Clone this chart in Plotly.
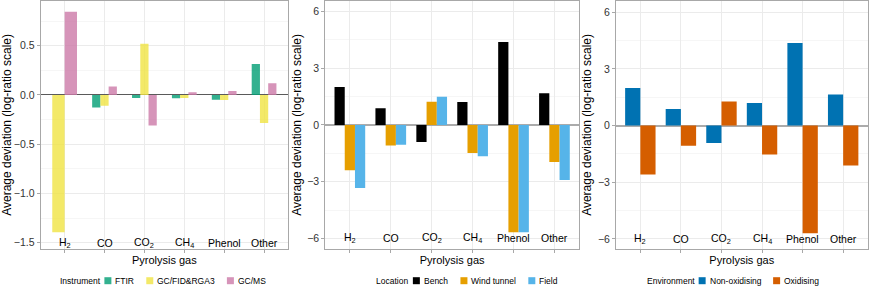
import plotly.graph_objects as go

# ---------------- data ----------------
gases = ["H2", "CO", "CO2", "CH4", "Phenol", "Other"]
gas_labels = ["H<sub>2</sub>", "CO", "CO<sub>2</sub>", "CH<sub>4</sub>", "Phenol", "Other"]

instr_names = ["FTIR", "GC/FID&RGA3", "GC/MS"]
ftir = [None, -0.127, -0.03, -0.034, -0.048, 0.315]
gcfid = [-1.393, -0.11, 0.52, -0.03, -0.051, -0.284]
gcms = [0.845, 0.086, -0.31, 0.027, 0.041, 0.12]

loc_names = ["Bench", "Wind tunnel", "Field"]
bench = [2.01, 0.88, -0.9, 1.22, 4.39, 1.68]
wind = [-2.4, -1.08, 1.23, -1.48, -5.68, -1.96]
field = [-3.33, -1.04, 1.5, -1.66, -5.68, -2.91]

env_names = ["Non-oxidising", "Oxidising"]
nonox = [1.99, 0.88, -0.92, 1.2, 4.37, 1.65]
oxid = [-2.59, -1.07, 1.27, -1.53, -5.7, -2.11]

y1_ticks = [0.5, 0.0, -0.5, -1.0, -1.5]
y1_ticktext = ["0.5", "0.0", "\u22120.5", "\u22121.0", "\u22121.5"]
y2_ticks = [6, 3, 0, -3, -6]
y2_ticktext = ["6", "3", "0", "\u22123", "\u22126"]

# ---------------- styling ----------------
FONT = "Liberation Sans, Arial, sans-serif"
W, H = 869, 286
frame_col = "#A8A8A8"
grid_major = "#EBEBEB"
grid_minor = "#F6F6F6"
LEG_SIZE = 8.5

panels = [
    dict(series=[ftir, gcfid, gcms], names=instr_names,
         colors=["rgba(0,158,115,0.8)", "rgba(240,228,66,0.8)", "rgba(204,121,167,0.8)"],
         gw=0.62, legend_title="Instrument", xdom=(40.7, 288.0),
         yrange=[-1.567, 0.959], ticks=y1_ticks, ticktext=y1_ticktext,
         minor=0.25, zcol="#5A5A5A", zw=1, label_y=-1.5),
    dict(series=[bench, wind, field], names=loc_names,
         colors=["#000000", "#E69F00", "#56B4E9"],
         gw=0.75, legend_title="Location", xdom=(325.3, 579.0),
         yrange=[-6.58, 6.59], ticks=y2_ticks, ticktext=y2_ticktext,
         minor=1.5, zcol="#ABABAB", zw=1.5, label_y=-6),
    dict(series=[nonox, oxid], names=env_names,
         colors=["#0072B2", "#D55E00"],
         gw=0.75, legend_title="Environment", xdom=(616.0, 867.5),
         yrange=[-6.55, 6.62], ticks=y2_ticks, ticktext=y2_ticktext,
         minor=1.5, zcol="#ABABAB", zw=1.5, label_y=-6),
]

legend_centers = [162, 466, 732]
legend_y = 280.7

# Arial / Liberation Sans advance widths (em) for laying out the legend row
_adv = {c: 0.556 for c in "abcdeghnopqu0123456789"}
_adv.update({"f": 0.278, "i": 0.222, "j": 0.222, "l": 0.222, "t": 0.278, "r": 0.333,
             "s": 0.5, "k": 0.5, "v": 0.5, "x": 0.5, "y": 0.5, "z": 0.5, "w": 0.722, "m": 0.833,
             " ": 0.278, "-": 0.333, "/": 0.278, "&": 0.667, "F": 0.611, "T": 0.611,
             "I": 0.278, "R": 0.722, "G": 0.778, "C": 0.722, "D": 0.722, "A": 0.667,
             "M": 0.833, "S": 0.667, "B": 0.667, "W": 0.944, "N": 0.722, "O": 0.778,
             "E": 0.667, "L": 0.556})


def text_w(s, size):
    return sum(_adv.get(ch, 0.6) for ch in s) * size


KEY = 7
TITLE_GAP = 5
KEY_GAP = 3
ITEM_GAP = 13

fig = go.Figure()
ydom = [1 - 249.3 / H, 1 - 0.5 / H]

for p_i, p in enumerate(panels):
    ax = "" if p_i == 0 else str(p_i + 1)
    series = p["series"]
    n_cat = len(gases)
    # dodge: bars in each category share the group width
    widths = [[None] * n_cat for _ in series]
    offsets = [[None] * n_cat for _ in series]
    for c in range(n_cat):
        present = [s_i for s_i, s in enumerate(series) if s[c] is not None]
        w = p["gw"] / len(present)
        for k, s_i in enumerate(present):
            widths[s_i][c] = w
            offsets[s_i][c] = -p["gw"] / 2 + k * w
    for s_i, s in enumerate(series):
        fig.add_trace(go.Bar(
            x=gases, y=s, name=p["names"][s_i],
            marker=dict(color=p["colors"][s_i], line=dict(width=0)),
            width=[w if w is not None else 0.1 for w in widths[s_i]],
            offset=[o if o is not None else 0 for o in offsets[s_i]],
            xaxis="x" + ax, yaxis="y" + ax, showlegend=False,
        ))
    xd = (p["xdom"][0] / W, p["xdom"][1] / W)
    fig.update_layout(**{
        "xaxis" + ax: dict(
            domain=xd, anchor="y" + ax, type="category",
            categoryorder="array", categoryarray=gases,
            range=[-0.6, 5.6], showticklabels=False,
            ticks="outside", ticklen=3, tickcolor=frame_col,
            showgrid=True, gridcolor=grid_major, gridwidth=1,
            showline=True, linecolor=frame_col, linewidth=1, mirror=True,
            title=dict(text="Pyrolysis gas", font=dict(size=11, color="#000000"), standoff=3),
            fixedrange=True, automargin=False,
        ),
        "yaxis" + ax: dict(
            domain=ydom, anchor="x" + ax, range=p["yrange"],
            tickmode="array", tickvals=p["ticks"], ticktext=p["ticktext"],
            tickfont=dict(size=10.5, color="#333333"),
            ticks="outside", ticklen=3, tickcolor=frame_col,
            showgrid=True, gridcolor=grid_major, gridwidth=1,
            minor=dict(dtick=p["minor"], tick0=0, showgrid=True, gridcolor=grid_minor, ticks=""),
            zeroline=True, zerolinecolor=p["zcol"], zerolinewidth=p["zw"],
            showline=True, linecolor=frame_col, linewidth=1, mirror=True,
            title=dict(text="Average deviation (log-ratio scale)",
                       font=dict(size=12, color="#000000"), standoff=3),
            fixedrange=True, automargin=False,
        ),
    })
    # category labels inside the panel, at the lowest tick level
    for c, lab in enumerate(gas_labels):
        fig.add_annotation(
            x=gases[c], y=p["label_y"], xref="x" + ax, yref="y" + ax,
            text=lab, showarrow=False, xanchor="center", yanchor="middle",
            font=dict(size=10.5, color="#000000"),
        )

    # ggplot-style legend row below the panel: title, then key + label per series
    tw_title = text_w(p["legend_title"], LEG_SIZE)
    item_ws = [KEY + KEY_GAP + text_w(nm, LEG_SIZE) for nm in p["names"]]
    total = tw_title + TITLE_GAP + sum(item_ws) + ITEM_GAP * (len(item_ws) - 1)
    x0 = legend_centers[p_i] - total / 2
    yc = 1 - legend_y / H
    fig.add_annotation(x=x0 / W, y=yc, xref="paper", yref="paper", text=p["legend_title"],
                       showarrow=False, xanchor="left", yanchor="middle", borderpad=0,
                       font=dict(size=LEG_SIZE, color="#000000"))
    cx = x0 + tw_title + TITLE_GAP
    for s_i, nm in enumerate(p["names"]):
        fig.add_shape(type="rect", xref="paper", yref="paper",
                      x0=cx / W, x1=(cx + KEY) / W,
                      y0=yc - (KEY / 2) / H, y1=yc + (KEY / 2) / H,
                      fillcolor=p["colors"][s_i], line=dict(width=0))
        fig.add_annotation(x=(cx + KEY + KEY_GAP) / W, y=yc, xref="paper", yref="paper",
                           text=nm, showarrow=False, xanchor="left", yanchor="middle",
                           borderpad=0, font=dict(size=LEG_SIZE, color="#000000"))
        cx += item_ws[s_i] + ITEM_GAP

fig.update_layout(
    width=W, height=H,
    margin=dict(l=0, r=0, t=0, b=0, autoexpand=False),
    barmode="overlay",
    plot_bgcolor="#FFFFFF", paper_bgcolor="#FFFFFF",
    font=dict(family=FONT, size=10.5, color="#000000"),
    showlegend=False,
)

fig.write_html("out.html", config={"displayModeBar": False},
               post_script="document.body.style.margin='0px';document.body.style.overflow='hidden';")
